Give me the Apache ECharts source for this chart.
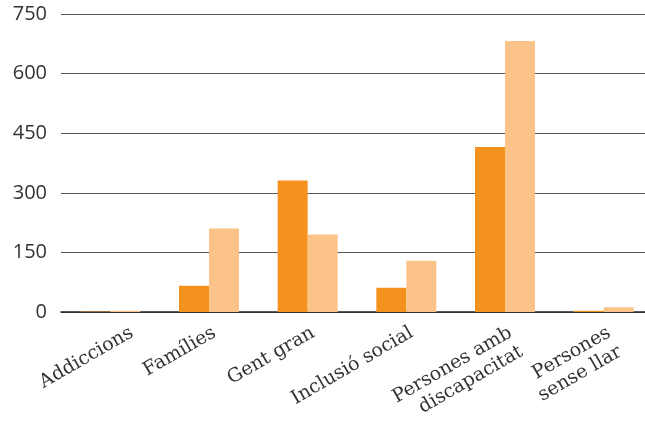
<!DOCTYPE html>
<html><head><meta charset="utf-8">
<script src="https://cdn.jsdelivr.net/npm/echarts@6/dist/echarts.min.js"></script>
<style>html,body{margin:0;padding:0;background:#fff}#c{width:645px;height:423px}</style>
</head><body><div id="c"></div>
<script>
var categories = ["Addiccions", "Famílies", "Gent gran", "Inclusió social", "Persones amb\ndiscapacitat", "Persones\nsense llar"];
var seriesA = [1, 66, 331, 61, 415, 3];
var seriesB = [3, 210, 195, 129, 682, 12];
var yTicks = [0, 150, 300, 450, 600, 750];

var LABEL_FONT = 'DejaVu Serif';
var LABEL_SIZE = 19;
var cv = document.createElement('canvas').getContext('2d');
cv.font = LABEL_SIZE + 'px "' + LABEL_FONT + '"';
var firstW = cv.measureText(categories[0]).width;

var chart = echarts.init(document.getElementById('c'));
chart.setOption({
  animation: false,
  grid: {left: 61, right: -8, top: 14, bottom: 111, containLabel: false, outerBoundsMode: 'none'},
  xAxis: {
    type: 'category', data: categories,
    axisLine: {lineStyle: {color: '#222', width: 1.5}},
    axisTick: {show: false},
    axisLabel: {
      rotate: 30, interval: 0, fontFamily: LABEL_FONT, fontSize: LABEL_SIZE, color: '#333',
      margin: 10, lineHeight: 22, verticalAlign: 'top',
      formatter: function (v, i) { return i === 0 ? '{s|' + v + '}' : v; },
      rich: {
        s: {width: Math.round(firstW - 14), align: 'left', lineHeight: 38,
            fontFamily: LABEL_FONT, fontSize: LABEL_SIZE, color: '#333'}
      }
    }
  },
  yAxis: {
    type: 'value', min: yTicks[0], max: yTicks[yTicks.length-1], interval: 150,
    axisLine: {show: false}, axisTick: {show: false},
    axisLabel: {fontFamily: 'Open Sans', fontSize: 20, color: '#333', margin: 14},
    splitLine: {lineStyle: {color: '#555', width: 1.2}}
  },
  series: [
    {type: 'bar', data: seriesA, barWidth: 30, barGap: '0%', itemStyle: {color: '#F5911F'}},
    {type: 'bar', data: seriesB, barWidth: 30, barGap: '0%', itemStyle: {color: '#FCC388'}}
  ]
});
</script></body></html>
